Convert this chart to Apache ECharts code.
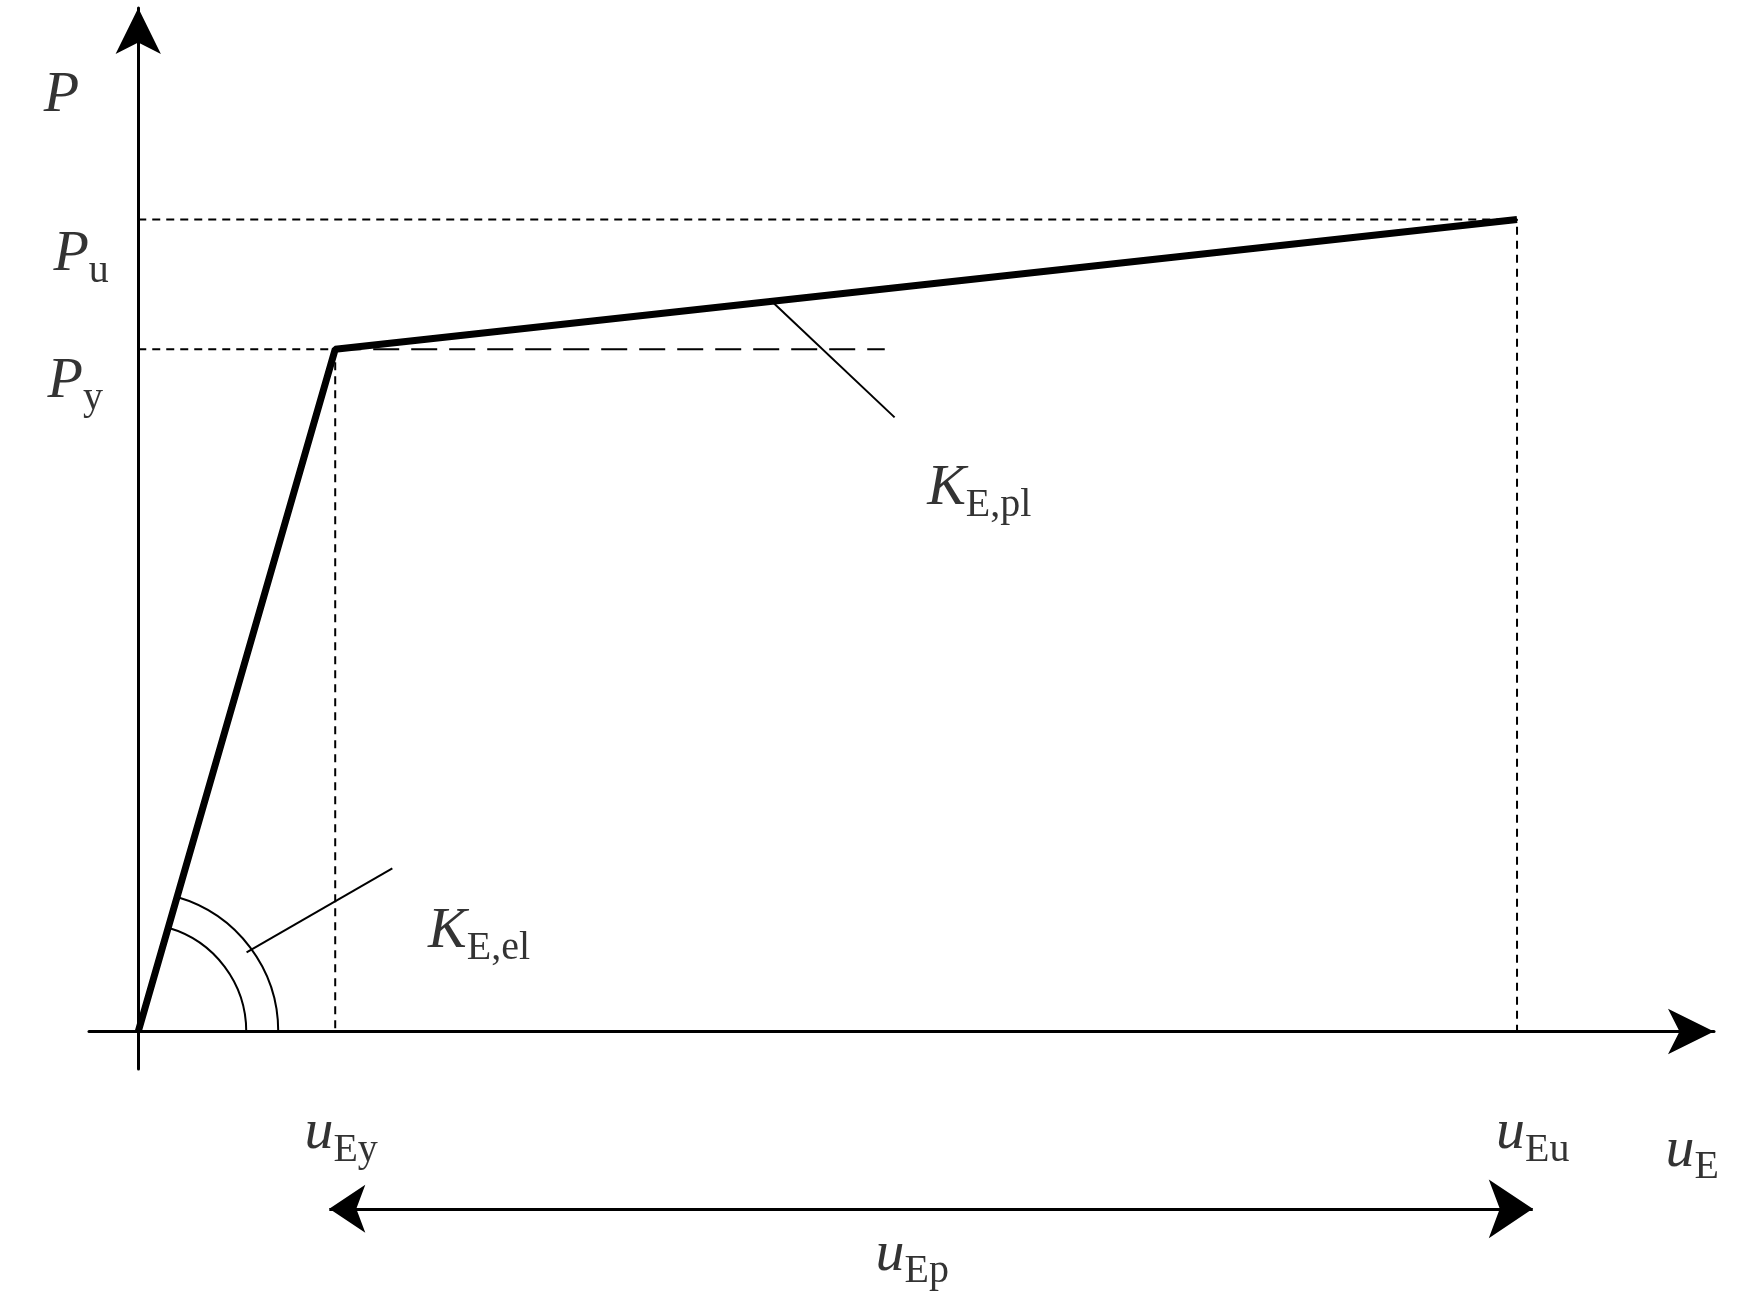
<!DOCTYPE html>
<html>
<head>
<meta charset="utf-8">
<script src="https://cdn.jsdelivr.net/npm/echarts@6/dist/echarts.min.js"></script>
<style>html,body{margin:0;background:#fff}#c{width:1750px;height:1304px}</style>
</head>
<body>
<div id="c"></div>
<script>
// bilinear load–displacement curve (uEy = 1, Py = 1)
var curve = [[0, 0], [1, 1], [7, 1.19]]
var puLine = [[0, 1.19], [7, 1.19], [7, 0]]
var pyLine = [[0, 1], [1, 1], [1, 0]]
var plTangent = [[1, 1], [3.79, 1]]
var plLeader = [[3.22, 1.069], [3.84, 0.9]]
var elLeader = [[0.55, 0.116], [1.29, 0.239]]
var spanArrow = [[0.97, -0.26], [7.08, -0.26]]
var arcRadii = [108, 140]

// labels: [x, y, main, sub]
var labels = [
  [-0.39, 1.365, 'P', ''],
  [-0.29, 1.133, 'P', 'u'],
  [-0.32, 0.947, 'P', 'y'],
  [4.27, 0.79, 'K', 'E,pl'],
  [1.73, 0.14, 'K', 'E,el'],
  [1.03, -0.155, 'u', 'Ey'],
  [7.08, -0.155, 'u', 'Eu'],
  [7.89, -0.18, 'u', 'E'],
  [3.93, -0.333, 'u', 'Ep']
]

var chart = echarts.init(document.getElementById('c'))

var thin = { color: '#000', width: 2 }
var dashed = { color: '#000', width: 2, type: [8, 6] }

chart.setOption({
  animation: false,
  grid: { left: 89, right: 36, top: 8, bottom: 235 },
  xAxis: {
    type: 'value', min: -0.25, max: 8,
    axisLine: { onZero: true, symbol: ['none', 'arrow'], symbolSize: [34, 46], lineStyle: { color: '#000', width: 3 } },
    axisTick: { show: false }, axisLabel: { show: false }, splitLine: { show: false }
  },
  yAxis: {
    type: 'value', min: -0.055, max: 1.5,
    axisLine: { onZero: true, symbol: ['none', 'arrow'], symbolSize: [34, 46], lineStyle: { color: '#000', width: 3 } },
    axisTick: { show: false }, axisLabel: { show: false }, splitLine: { show: false }
  },
  series: [
    { type: 'line', data: puLine, symbol: 'none', lineStyle: dashed },
    { type: 'line', data: pyLine, symbol: 'none', lineStyle: dashed },
    { type: 'line', data: plTangent, symbol: 'none', lineStyle: { color: '#000', width: 2, type: [26, 12] } },
    { type: 'line', data: plLeader, symbol: 'none', lineStyle: thin },
    { type: 'line', data: elLeader, symbol: 'none', lineStyle: thin },
    { type: 'line', data: curve, symbol: 'none', lineStyle: { color: '#000', width: 7 } },
    {
      type: 'lines', coordinateSystem: 'cartesian2d', clip: false,
      symbol: ['arrow', 'arrow'], symbolSize: [36, 44],
      lineStyle: { color: '#000', width: 3, opacity: 1 },
      data: [{ coords: spanArrow }]
    },
    {
      type: 'custom', clip: false, data: [0],
      renderItem: function (params, api) {
        var o = api.coord([0, 0])
        var p = api.coord(curve[1])
        var ang = Math.atan2(p[1] - o[1], p[0] - o[0])
        return {
          type: 'group',
          children: arcRadii.map(function (r) {
            return {
              type: 'arc',
              shape: { cx: o[0], cy: o[1], r: r, startAngle: ang, endAngle: 0 },
              style: { stroke: '#000', lineWidth: 2, fill: null }
            }
          })
        }
      }
    },
    {
      type: 'scatter', clip: false, symbolSize: 0,
      data: labels.map(function (l) { return { value: [l[0], l[1]], main: l[2], sub: l[3] } }),
      label: {
        show: true, position: [0, 0], align: 'center', verticalAlign: 'middle',
        formatter: function (p) {
          return '{m|' + p.data.main + '}' + (p.data.sub ? '{s|' + p.data.sub + '}' : '')
        },
        rich: {
          m: { fontFamily: 'Liberation Serif', fontStyle: 'italic', fontSize: 58, color: '#000', lineHeight: 66, verticalAlign: 'top' },
          s: { fontFamily: 'Liberation Serif', fontSize: 40, color: '#000', lineHeight: 66, verticalAlign: 'bottom' }
        }
      }
    }
  ]
})
</script>
</body>
</html>
